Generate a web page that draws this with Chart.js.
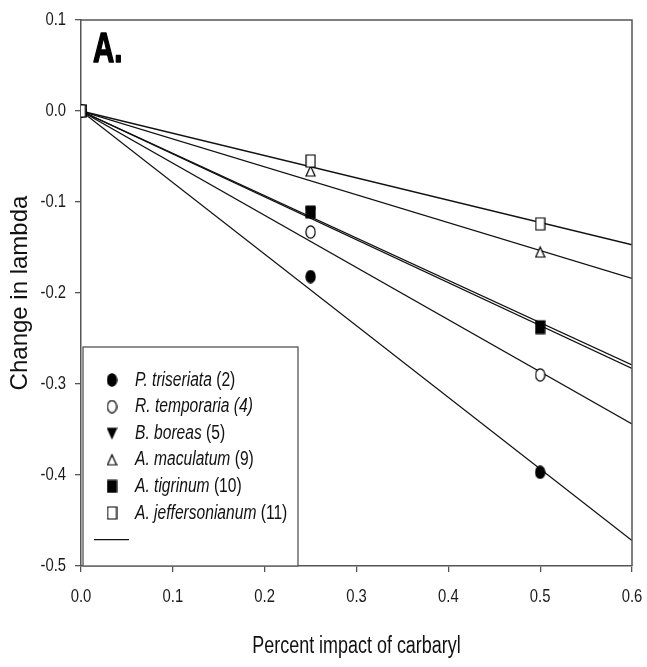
<!DOCTYPE html>
<html>
<head>
<meta charset="utf-8">
<title>Change in lambda vs carbaryl impact</title>
<script src="https://cdn.jsdelivr.net/npm/chart.js@4.4.1/dist/chart.umd.min.js"></script>
<style>
  html, body { margin: 0; padding: 0; background: #ffffff; }
  #wrap { width: 647px; height: 667px; position: relative; }
</style>
</head>
<body>
<div id="wrap"><canvas id="chart" width="647" height="667"></canvas></div>
<script>
// Percent impact of carbaryl at which lambda was evaluated
const impact = [0, 0.25, 0.5];

// Change in lambda for each species
const triseriata     = [0, -0.182, -0.397];
const temporaria     = [0, -0.133, -0.290];
const boreas         = [0, -0.112, -0.236];
const maculatum      = [0, -0.066, -0.155];
const tigrinum       = [0, -0.111, -0.238];
const jeffersonianum = [0, -0.055, -0.124];

// Fitted regression lines (through the origin), value at 60 % impact
const fitX = [0, 0.6];
const fitTriseriata     = [0, -0.472];
const fitTemporaria     = [0, -0.344];
const fitBoreas         = [0, -0.279];
const fitMaculatum      = [0, -0.184];
const fitTigrinum       = [0, -0.283];
const fitJeffersonianum = [0, -0.147];

// Legend text
const speciesNames  = ['P. triseriata', 'R. temporaria', 'B. boreas', 'A. maculatum', 'A. tigrinum', 'A. jeffersonianum'];
const speciesCounts = ['(2)', '(4)', '(5)', '(9)', '(10)', '(11)'];

// Axis ticks
const xTicks = [0.0, 0.1, 0.2, 0.3, 0.4, 0.5, 0.6];
const yTicks = [0.1, 0.0, -0.1, -0.2, -0.3, -0.4, -0.5];

const SANS = "'Liberation Sans', Arial, sans-serif";
const NARROW_X = 0.78;   // horizontal squeeze for the condensed look
const INK = '#111111';
const AXIS = '#555555';

// Slightly tall marker glyphs drawn onto small canvases
function marker(shape, filled) {
  const w = 11, h = 14;
  const c = document.createElement('canvas');
  c.width = w; c.height = h;
  const g = c.getContext('2d');
  g.lineWidth = 1.2;
  g.strokeStyle = '#000';
  g.fillStyle = filled ? '#000' : '#fff';
  g.beginPath();
  if (shape === 'circle') {
    g.ellipse(w / 2, h / 2, 4.6, 6.2, 0, 0, Math.PI * 2);
  } else if (shape === 'square') {
    g.rect(1, 1, w - 2, h - 2);
  } else if (shape === 'up') {
    g.moveTo(w / 2, 2); g.lineTo(w - 1, h - 2); g.lineTo(1, h - 2); g.closePath();
  } else if (shape === 'down') {
    g.moveTo(1, 2); g.lineTo(w - 1, 2); g.lineTo(w / 2, h - 2); g.closePath();
  }
  g.fill();
  g.stroke();
  return c;
}

const markers = [
  marker('circle', true),
  marker('circle', false),
  marker('down', true),
  marker('up', false),
  marker('square', true),
  marker('square', false)
];

const seriesValues = [triseriata, temporaria, boreas, maculatum, tigrinum, jeffersonianum];
const fitValues = [fitTriseriata, fitTemporaria, fitBoreas, fitMaculatum, fitTigrinum, fitJeffersonianum];

function pts(xs, ys) { return xs.map((x, i) => ({ x: x, y: ys[i] })); }

// Point datasets: earlier entries are drawn on top
const drawOrder = [5, 3, 4, 2, 1, 0];
const datasets = [];
drawOrder.forEach(i => {
  datasets.push({
    type: 'scatter',
    label: speciesNames[i],
    data: pts(impact, seriesValues[i]),
    pointStyle: markers[i],
    pointRadius: 6,
    showLine: false
  });
});
fitValues.forEach((ys, i) => {
  datasets.push({
    type: 'line',
    label: speciesNames[i] + ' fit',
    data: pts(fitX, ys),
    borderColor: '#111',
    borderWidth: 1.3,
    pointRadius: 0,
    fill: false,
    tension: 0
  });
});

// Text squeezed horizontally
function narrowText(ctx, text, x, y, font, align, baseline, sx, strokeW) {
  ctx.save();
  ctx.translate(x, y);
  ctx.scale(sx, 1);
  ctx.font = font;
  ctx.textAlign = align;
  ctx.textBaseline = baseline;
  ctx.fillText(text, 0, 0);
  if (strokeW) {
    ctx.strokeStyle = ctx.fillStyle;
    ctx.lineWidth = strokeW;
    ctx.lineJoin = 'round';
    ctx.strokeText(text, 0, 0);
  }
  const w = ctx.measureText(text).width * sx;
  ctx.restore();
  return w;
}

const textPlugin = {
  id: 'frameAndText',
  afterDraw(chart) {
    const { ctx, chartArea: a, scales } = chart;
    ctx.save();

    // Top and right edges of the frame
    ctx.strokeStyle = AXIS;
    ctx.lineWidth = 1.5;
    ctx.beginPath();
    ctx.moveTo(a.left, a.top);
    ctx.lineTo(a.right, a.top);
    ctx.lineTo(a.right, a.bottom);
    ctx.stroke();

    // Tick labels
    ctx.fillStyle = '#1a1a1a';
    const tickFont = "19px " + SANS;
    xTicks.forEach(v => {
      narrowText(ctx, v.toFixed(1), scales.x.getPixelForValue(v), 597, tickFont, 'center', 'middle', NARROW_X);
    });
    yTicks.forEach(v => {
      narrowText(ctx, v.toFixed(1), 66, scales.y.getPixelForValue(v), tickFont, 'right', 'middle', NARROW_X);
    });

    // Axis titles
    ctx.fillStyle = INK;
    narrowText(ctx, 'Percent impact of carbaryl', (a.left + a.right) / 2, 647, "23px " + SANS, 'center', 'middle', NARROW_X);
    ctx.save();
    ctx.translate(20, (a.top + a.bottom) / 2);
    ctx.rotate(-Math.PI / 2);
    ctx.font = "24px " + SANS;
    ctx.textAlign = 'center';
    ctx.textBaseline = 'middle';
    ctx.fillText('Change in lambda', 0, 0);
    ctx.restore();

    // Panel letter
    ctx.fillStyle = '#000';
    narrowText(ctx, 'A.', 93, 62, "bold 42px " + SANS, 'left', 'alphabetic', 0.7, 1.6);

    // Legend box
    const bx = 83, by = 347, bw = 215, bh = a.bottom - 347;
    ctx.fillStyle = '#fff';
    ctx.fillRect(bx, by, bw, bh);
    ctx.strokeStyle = AXIS;
    ctx.lineWidth = 1.3;
    ctx.strokeRect(bx, by, bw, bh);

    const rowY = 380, step = 26.6;
    speciesNames.forEach((name, i) => {
      const y = rowY + i * step;
      const m = markers[i];
      ctx.drawImage(m, 112 - m.width / 2, y - m.height / 2);
      ctx.fillStyle = INK;
      const w = narrowText(ctx, name + ' ', 135, y, "italic 20px " + SANS, 'left', 'middle', NARROW_X);
      narrowText(ctx, speciesCounts[i], 135 + w, y, (i === 1 ? "italic " : "") + "20px " + SANS, 'left', 'middle', NARROW_X);
    });
    const ly = rowY + 6 * step;
    ctx.strokeStyle = '#111';
    ctx.lineWidth = 1.3;
    ctx.beginPath();
    ctx.moveTo(94, ly);
    ctx.lineTo(129, ly);
    ctx.stroke();
    ctx.restore();
  }
};

new Chart(document.getElementById('chart'), {
  data: { datasets: datasets },
  options: {
    responsive: false,
    animation: false,
    layout: { padding: { left: 0, right: 15, top: 20, bottom: 0 } },
    plugins: { legend: { display: false }, tooltip: { enabled: false } },
    scales: {
      x: {
        type: 'linear',
        min: xTicks[0],
        max: xTicks[xTicks.length - 1],
        afterBuildTicks: s => { s.ticks = xTicks.map(v => ({ value: v })); },
        afterFit: s => { s.height = 101; },
        ticks: { display: false },
        grid: { drawOnChartArea: false, tickLength: 6, color: AXIS, lineWidth: 1.3 },
        border: { display: true, color: AXIS, width: 1.5 }
      },
      y: {
        type: 'linear',
        min: yTicks[yTicks.length - 1],
        max: yTicks[0],
        afterBuildTicks: s => { s.ticks = yTicks.slice().reverse().map(v => ({ value: v })); },
        afterFit: s => { s.width = 81; },
        ticks: { display: false },
        grid: { drawOnChartArea: false, tickLength: 6, color: AXIS, lineWidth: 1.3 },
        border: { display: true, color: AXIS, width: 1.5 }
      }
    }
  },
  plugins: [textPlugin]
});
</script>
</body>
</html>
